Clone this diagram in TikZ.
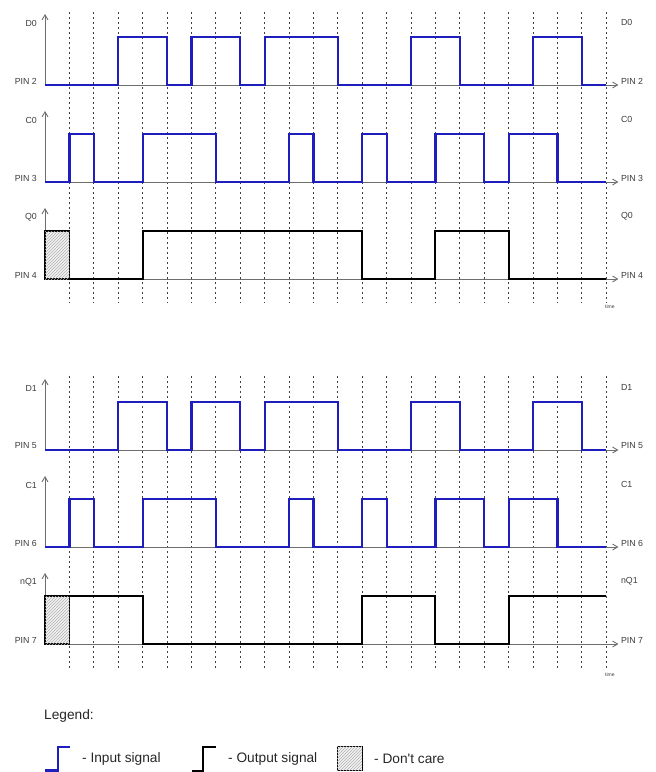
\documentclass[tikz,border=0pt]{standalone}
\usepackage{fontspec}
\setmainfont{Liberation Sans}
\usetikzlibrary{arrows.meta,patterns}

\definecolor{sigblue}{RGB}{30,30,190}
\definecolor{axisgray}{RGB}{110,110,110}
\definecolor{txtgray}{RGB}{60,60,60}

\tikzset{
  insig/.style={sigblue, line width=2.2pt},
  outsig/.style={black, line width=2pt},
  axisline/.style={axisgray, line width=0.9pt, -{Straight Barb[length=5pt,width=6pt]}},
  gridline/.style={black!75, line width=0.9pt, dash pattern=on 2pt off 3pt},
  lbl/.style={txtgray, inner sep=0pt, font=\fontsize{8.8}{10}\selectfont},
  legtxt/.style={black!85, inner sep=0pt, font=\fontsize{13.7}{16}\selectfont},
  dontcare/.style={draw=black, line width=1.4pt, fill=black!5, postaction={pattern=north east lines, pattern color=black!30}},
}

% one signal axis: #1 baseline, #2 name, #3 pin
\newcommand{\sigaxis}[3]{%
  \draw[axisline] (0,#1) -- (23.5,#1);
  \draw[axisline] (0,#1) -- (0,#1-71);
  \node[lbl, anchor=east] (#2L) at ([xshift=-8pt]0,#1-62) {#2};
  \node[lbl, anchor=east] (#2P) at ([xshift=-8pt]0,#1-4) {PIN #3};
  \node[lbl, anchor=west] (#2R) at (23.6,#1-63) {#2};
  \node[lbl, anchor=west] (#2Q) at (23.6,#1-4) {PIN #3};
}

\begin{document}
\begin{tikzpicture}[x=1pt, y=-1pt]
  \useasboundingbox (0,0) rectangle (656,772);

  \begin{scope}[xshift=45pt, x=24.4pt]
    % time grid
    \foreach \k in {1,...,23} {
      \draw[gridline] (\k,12) -- (\k,303);
      \draw[gridline] (\k,376) -- (\k,670);
    }
    \node[lbl, font=\fontsize{5}{6}\selectfont] (t0) at (23.15,306.5) {time};
    \node[lbl, font=\fontsize{5}{6}\selectfont] (t1) at (23.15,675) {time};

    % first flip-flop
    \sigaxis{85}{D0}{2}
    \sigaxis{182}{C0}{3}
    \sigaxis{279}{Q0}{4}

    \draw[insig] (0,85) -| (3,37) -| (5,85) -| (6,37) -| (8,85) -| (9,37) -| (12,85)
      -| (15,37) -| (17,85) -| (20,37) -| (22,85) -- (23,85);
    \draw[insig] (0,182) -| (1,134) -| (2,182) -| (4,134) -| (7,182) -| (10,134) -| (11,182)
      -| (13,134) -| (14,182) -| (16,134) -| (18,182) -| (19,134) -| (21,182) -- (23,182);
    \draw[dontcare] (0,231) rectangle (1,279);
    \draw[outsig] (1,279) -| (4,231) -| (13,279) -| (16,231) -| (19,279) -- (23,279);

    % second flip-flop
    \sigaxis{450}{D1}{5}
    \sigaxis{547}{C1}{6}
    \sigaxis{644}{nQ1}{7}

    \draw[insig] (0,450) -| (3,402) -| (5,450) -| (6,402) -| (8,450) -| (9,402) -| (12,450)
      -| (15,402) -| (17,450) -| (20,402) -| (22,450) -- (23,450);
    \draw[insig] (0,547) -| (1,499) -| (2,547) -| (4,499) -| (7,547) -| (10,499) -| (11,547)
      -| (13,499) -| (14,547) -| (16,499) -| (18,547) -| (19,499) -| (21,547) -- (23,547);
    \draw[dontcare] (0,596) rectangle (1,644);
    \draw[outsig] (1,596) -| (4,644) -| (13,596) -| (16,644) -| (19,596) -- (23,596);
  \end{scope}

  % legend
  \node[legtxt, anchor=west] (leg) at (44,716) {Legend:};
  \draw[insig] (45,770.5) -| (58,747) -- (70,747);
  \node[legtxt, anchor=west] (legin) at (82,759) {- Input signal};
  \draw[outsig] (192,770.5) -| (203,747) -- (216,747);
  \node[legtxt, anchor=west] (legout) at (228,759) {- Output signal};
  \draw[dontcare, line width=1pt] (337,746) rectangle (362,770);
  \node[legtxt, anchor=west] (legdc) at (374,759) {- Don\textquotesingle t care};
\end{tikzpicture}
\end{document}
